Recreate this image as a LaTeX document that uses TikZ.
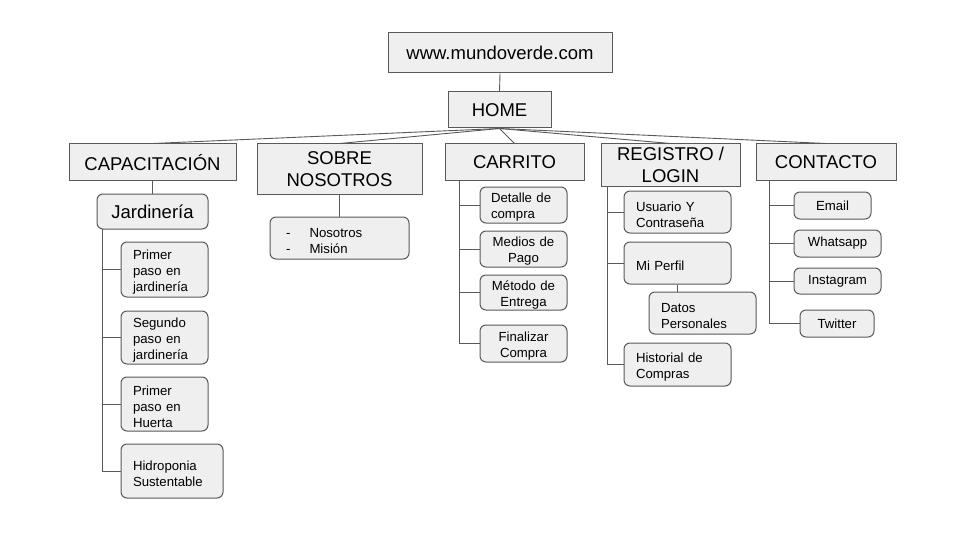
\documentclass[tikz,border=0pt]{standalone}
\usepackage{fontspec}
\setmainfont{Liberation Sans}
\definecolor{boxfill}{HTML}{EFEFEF}
\definecolor{edge}{HTML}{595959}
\begin{document}
\begin{tikzpicture}[x=1pt,y=-1pt,
  base/.style={draw=edge,fill=boxfill,line width=1pt,inner sep=0pt,text=black},
  bigbox/.style={base,rectangle,font=\fontsize{18.5}{21.5}\selectfont,align=center},
  smallbox/.style={base,rounded corners=6pt,font=\fontsize{13.2}{16}\selectfont,align=center},
  lower/.style={execute at begin node={\rule{0pt}{14.5pt}}},
  leftbox/.style={base,rounded corners=6pt,font=\fontsize{13.2}{16}\selectfont,align=left,inner xsep=12pt,lower},
  midbox/.style={leftbox,align=center,inner xsep=6pt,text width=75},
  link/.style={draw=edge,line width=0.9pt}]
\useasboundingbox (0,0) rectangle (960,540);
\fill[white] (0,0) rectangle (960,540);

% top
\node[bigbox,minimum width=224,minimum height=40] (www) at (500,53) {www.mundoverde.com};
\node[bigbox,minimum width=103,minimum height=36] (home) at (499.5,110) {HOME};

% categories
\node[bigbox,minimum width=167,minimum height=37] (cap) at (152.5,162.5) {CAPACITACIÓN};
\node[bigbox,minimum width=165,minimum height=50] (sobre) at (339.5,169) {SOBRE\\NOSOTROS};
\node[bigbox,minimum width=139,minimum height=37] (carr) at (514.5,162.5) {CARRITO};
\node[bigbox,minimum width=139,minimum height=42] (reg) at (670.5,165) {REGISTRO /\\LOGIN};
\node[bigbox,minimum width=140,minimum height=37] (cont) at (826,162.5) {CONTACTO};

% capacitacion
\node[smallbox,font=\fontsize{18.5}{21.5}\selectfont,minimum width=111,minimum height=35] (jard) at (152.5,211.5) {Jardinería};
\node[leftbox,text width=63,minimum height=55] (j1) at (164.5,269.5) {Primer\\paso en\\jardinería};
\node[leftbox,text width=63,minimum height=53] (j2) at (164.5,337.5) {Segundo\\paso en\\jardinería};
\node[leftbox,text width=63,minimum height=54] (j3) at (164.5,404) {Primer\\paso en\\Huerta};
\node[leftbox,text width=78,minimum height=54] (j4) at (172,471) {Hidroponia\\Sustentable};

% sobre nosotros
\node[leftbox,inner xsep=16pt,text width=107,minimum height=42] (nos) at (339.5,238)
  {\makebox[23.5pt][l]{-}Nosotros\\\makebox[23.5pt][l]{-}Misión};

% carrito
\node[leftbox,inner xsep=11pt,text width=65,minimum height=36] (c1) at (523.5,205) {Detalle de\\compra};
\node[midbox,minimum height=36] (c2) at (523.5,249) {Medios de\\Pago};
\node[midbox,minimum height=35] (c3) at (523.5,292.5) {Método de\\Entrega};
\node[midbox,minimum height=37] (c4) at (523.5,343.5) {Finalizar\\Compra};

% registro
\node[leftbox,text width=83,minimum height=42] (r1) at (677.5,212) {Usuario Y\\Contraseña};
\node[leftbox,text width=83,minimum height=42] (r2) at (677.5,263) {Mi Perfil};
\node[leftbox,text width=83,minimum height=42] (r3) at (702.5,313) {Datos\\Personales};
\node[leftbox,text width=83,minimum height=43] (r4) at (677.5,364.5) {Historial de\\Compras};

% contacto
\node[smallbox,minimum width=77,minimum height=27] (k1) at (832.5,205.5) {Email};
\node[smallbox,minimum width=87,minimum height=27] (k2) at (837.5,243.5) {Whatsapp};
\node[smallbox,minimum width=87,minimum height=26] (k3) at (837.5,281) {Instagram};
\node[smallbox,minimum width=74,minimum height=27] (k4) at (837,323.5) {Twitter};

% trunk coordinates
\coordinate (jt) at (102.7,229);
\coordinate (ct) at (459,181);
\coordinate (rt) at (607,186);
\coordinate (kt) at (769,181);

% connectors
\draw[link] (www.south) -- (home.north);
\foreach \t in {cap,sobre,carr,reg,cont} \draw[link] (home.south) -- (\t.north);
\draw[link] (cap.south) -- (jard.north);
\draw[link] (sobre.south) -- (nos.north);

\draw[link] (jt) |- (j4.west);
\foreach \t in {j1,j2,j3} \draw[link] (\t.west) -- (\t.west -| jt);

\draw[link] (ct) |- (c4.west);
\foreach \t in {c1,c2,c3} \draw[link] (\t.west) -- (\t.west -| ct);

\draw[link] (rt) |- (r4.west);
\foreach \t in {r1,r2} \draw[link] (\t.west) -- (\t.west -| rt);
\draw[link] (r2.south) -- (r2.south |- r3.north);

\draw[link] (kt) |- (k4.west);
\foreach \t in {k1,k2,k3} \draw[link] (\t.west) -- (\t.west -| kt);
\end{tikzpicture}
\end{document}
